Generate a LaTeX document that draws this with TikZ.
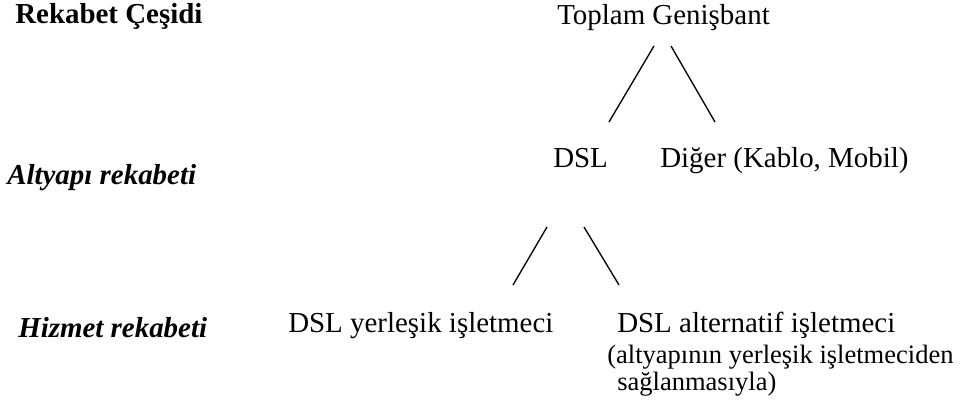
\documentclass[tikz,border=0pt]{standalone}
\usepackage{fontspec}
\setmainfont{Liberation Serif}
\tikzset{
  lbl/.style={anchor=base west, inner sep=0pt, font=\fontsize{21.7}{26}\selectfont},
  sidebold/.style={lbl, font=\fontsize{21.7}{26}\selectfont\bfseries},
  sideital/.style={lbl, font=\fontsize{21.7}{26}\selectfont\bfseries\itshape},
  note/.style={anchor=base west, inner sep=0pt, align=left, font=\fontsize{19.9}{20.25}\selectfont},
  link/.style={line width=1pt, line cap=butt}
}
\begin{document}
\begin{tikzpicture}[x=0.75pt, y=-0.75pt]
\useasboundingbox (0,0) rectangle (961,406);
% side labels
\node[sidebold] (rc) at (15,24) {Rekabet Çeşidi};
\node[sideital] (ar) at (7,185) {Altyapı rekabeti};
\node[sideital] (hr) at (18,337) {Hizmet rekabeti};
% tree nodes
\node[lbl] (top) at (557,25) {Toplam Genişbant};
\node[lbl] (dsl) at (553,168) {DSL};
\node[lbl] (other) at (660,168) {Diğer (Kablo, Mobil)};
\node[lbl] (inc) at (288,332) {DSL yerleşik işletmeci};
\node[lbl] (alt) at (617,332) {DSL alternatif işletmeci};
\node[note] (altnote) at (607,390) {(altyapının yerleşik işletmeciden\\\hspace*{7.5pt}sağlanmasıyla)};
% connector end points
\coordinate (t1) at (654,46);
\coordinate (d1) at (609,122);
\coordinate (t2) at (671,46);
\coordinate (o1) at (715,122);
\coordinate (s1) at (547,227);
\coordinate (i1) at (513,285);
\coordinate (s2) at (584,227);
\coordinate (a1) at (619,285);
\draw[link] (t1) -- (d1);
\draw[link] (t2) -- (o1);
\draw[link] (s1) -- (i1);
\draw[link] (s2) -- (a1);
\end{tikzpicture}
\end{document}
